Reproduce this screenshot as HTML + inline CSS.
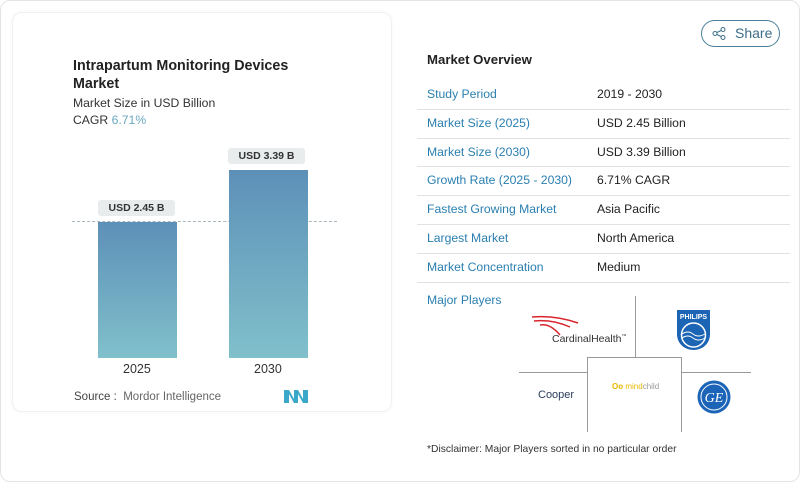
<!DOCTYPE html>
<html><head><meta charset="utf-8"><style>
*{margin:0;padding:0;box-sizing:border-box}
body{width:800px;height:482px;background:#fff;font-family:"Liberation Sans",sans-serif;position:relative;overflow:hidden}
.a{position:absolute;white-space:nowrap}
.lbl{color:#2a7fb0;font-size:12.2px}
.val{color:#222;font-size:12.2px}
.ln{position:absolute;left:417px;width:373px;height:1px;background:#e2e2e2}
</style></head><body>
<div class="a" style="left:0;top:0;width:800px;height:482px;border:1px solid #e4e4e4;border-radius:10px"></div>
<div class="a" style="left:12px;top:12px;width:380px;height:400px;border:1px solid #f0f0f0;border-radius:10px;box-shadow:0 0 4px rgba(0,0,0,0.04)"></div>
<div class="a" style="left:73px;top:57px;font-size:14.3px;font-weight:bold;color:#222;line-height:18px">Intrapartum Monitoring Devices<br>Market</div>
<div class="a" style="left:73px;top:96px;font-size:12.2px;color:#333">Market Size in USD Billion</div>
<div class="a" style="left:73px;top:113px;font-size:12.2px;color:#333">CAGR <span style="color:#6aa7bf">6.71%</span></div>
<div class="a" style="left:72px;top:221px;width:265px;border-top:1.5px dashed #a9b8bf"></div>
<div class="a" style="left:98px;top:222px;width:79px;height:136px;background:linear-gradient(#5d90b8,#80c0cb)"></div>
<div class="a" style="left:229px;top:170px;width:79px;height:188px;background:linear-gradient(#5d90b8,#80c0cb)"></div>
<div class="a" style="left:98px;top:200px;width:77px;height:16px;background:#e8eced;border-radius:3px;font-size:10.5px;font-weight:bold;color:#333;text-align:center;line-height:16px">USD 2.45 B</div>
<div class="a" style="left:228px;top:148px;width:77px;height:16px;background:#e8eced;border-radius:3px;font-size:10.5px;font-weight:bold;color:#333;text-align:center;line-height:16px">USD 3.39 B</div>
<div class="a" style="left:123px;top:362px;font-size:12.5px;color:#333">2025</div>
<div class="a" style="left:254px;top:362px;font-size:12.5px;color:#333">2030</div>
<div class="a" style="left:74px;top:391px;font-size:11.5px;color:#555"><b style="font-weight:normal;color:#444">Source :</b>&nbsp; <span style="color:#666">Mordor Intelligence</span></div>
<svg class="a" style="left:284px;top:390px" width="24" height="13"><path d="M0 13V0h5l5 9V0h4l5 9V0h5v13h-5l-5-9v9h-4L5 4v9z" fill="#3aa8c8"/></svg>
<div class="a" style="left:701px;top:20px;width:79px;height:27px;border:1px solid #4a7f99;border-radius:14px;font-size:14px;color:#3c6e88;line-height:25px;padding-left:33px">Share</div>
<svg class="a" style="left:712px;top:27px" width="14" height="13"><circle cx="11" cy="2.5" r="2" fill="none" stroke="#3c6e88"/><circle cx="3" cy="6.5" r="2" fill="none" stroke="#3c6e88"/><circle cx="11" cy="10.5" r="2" fill="none" stroke="#3c6e88"/><path d="M5 5.5l4-2M5 7.5l4 2" stroke="#3c6e88"/></svg>
<div class="a" style="left:427px;top:52px;font-size:13.2px;font-weight:bold;color:#222">Market Overview</div>
<div class="a lbl" style="left:427px;top:87px">Study Period</div><div class="a val" style="left:597px;top:87px">2019 - 2030</div>
<div class="ln" style="top:109px"></div>
<div class="a lbl" style="left:427px;top:116px">Market Size (2025)</div><div class="a val" style="left:597px;top:116px">USD 2.45 Billion</div>
<div class="ln" style="top:138px"></div>
<div class="a lbl" style="left:427px;top:145px">Market Size (2030)</div><div class="a val" style="left:597px;top:145px">USD 3.39 Billion</div>
<div class="ln" style="top:166px"></div>
<div class="a lbl" style="left:427px;top:173px">Growth Rate (2025 - 2030)</div><div class="a val" style="left:597px;top:173px">6.71% CAGR</div>
<div class="ln" style="top:195px"></div>
<div class="a lbl" style="left:427px;top:202px">Fastest Growing Market</div><div class="a val" style="left:597px;top:202px">Asia Pacific</div>
<div class="ln" style="top:224px"></div>
<div class="a lbl" style="left:427px;top:231px">Largest Market</div><div class="a val" style="left:597px;top:231px">North America</div>
<div class="ln" style="top:253px"></div>
<div class="a lbl" style="left:427px;top:260px">Market Concentration</div><div class="a val" style="left:597px;top:260px">Medium</div>
<div class="ln" style="top:282px"></div>
<div class="a lbl" style="left:427px;top:293px">Major Players</div>
<div class="a" style="left:635px;top:296px;width:1px;height:61px;background:#999"></div>
<div class="a" style="left:519px;top:372px;width:68px;height:1px;background:#999"></div>
<div class="a" style="left:682px;top:372px;width:69px;height:1px;background:#999"></div>
<div class="a" style="left:587px;top:357px;width:95px;height:75px;border:1px solid #999;border-bottom:none"></div>
<svg class="a" style="left:530px;top:315px" width="50" height="22"><path d="M2 2Q25 0 48 8M4 6Q22 4 40 12M10 10Q20 8 30 20" stroke="#d9242d" fill="none" stroke-width="1.5"/></svg>
<div class="a" style="left:552px;top:333px;font-size:10.5px;color:#333">CardinalHealth<sup style="font-size:5px">™</sup></div>
<svg class="a" style="left:676px;top:309px" width="35" height="42"><path d="M1 1h33v24c0 10-8 16-16.5 16S1 35 1 25z" fill="#1c64b4"/><text x="17.5" y="10" font-size="7" fill="#fff" text-anchor="middle" font-weight="bold" font-family="Liberation Sans">PHILIPS</text><circle cx="17.5" cy="26" r="12" fill="none" stroke="#fff" stroke-width="1.5"/><path d="M6 25q6-4 11 0t12 0M6 29q6-4 11 0t12 0" stroke="#fff" fill="none"/></svg>
<div class="a" style="left:538px;top:389px;font-size:11px;color:#2a3c5e">Cooper</div>
<div class="a" style="left:612px;top:382px;font-size:8px;color:#999"><span style="color:#e8b800;font-weight:bold">Oo</span> <span style="color:#e8b800">mind</span>child</div>
<svg class="a" style="left:697px;top:380px" width="34" height="34"><circle cx="17" cy="17" r="16.5" fill="#1b64b8"/><circle cx="17" cy="17" r="13" fill="none" stroke="#fff" stroke-width="1"/><text x="17" y="22" font-size="14" fill="#fff" text-anchor="middle" font-style="italic" font-family="Liberation Serif">GE</text></svg>
<div class="a" style="left:427px;top:444px;font-size:10.3px;color:#333">*Disclaimer: Major Players sorted in no particular order</div>
</body></html>
